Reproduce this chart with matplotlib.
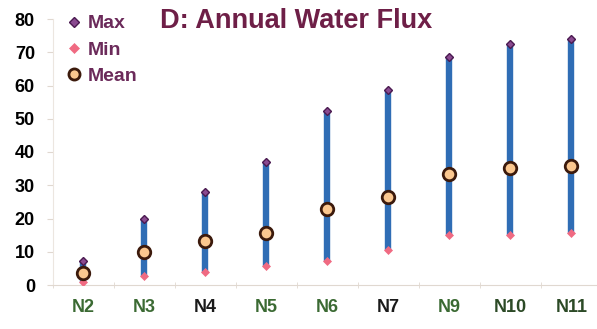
import matplotlib.pyplot as plt
import numpy as np

# 数据 (annual water flux per site)
sites = ['N2', 'N3', 'N4', 'N5', 'N6', 'N7', 'N9', 'N10', 'N11']
max_vals = [7.2, 19.8, 28.0, 37.0, 52.3, 58.6, 68.7, 72.6, 73.9]
min_vals = [1.0, 2.7, 4.0, 5.8, 7.3, 10.5, 15.0, 15.0, 15.6]
mean_vals = [3.5, 10.0, 13.2, 15.7, 22.8, 26.4, 33.4, 35.3, 35.9]
label_colors = ['#3b6a33', '#3b6a33', '#1a1a1a', '#3b6a33', '#3b6a33',
                '#1a1a1a', '#3b6a33', '#2c4a26', '#2c4a26']

plt.rcParams['font.family'] = ['Liberation Sans', 'DejaVu Sans']

fig = plt.figure(figsize=(5.97, 3.29), dpi=100)
ax = fig.add_axes([53/597, 44/329, 544/597, 266/329])

x = np.arange(len(sites))

# 最大值到最小值的竖条
ax.vlines(x, min_vals, max_vals, color='#2f6db5', lw=4.6, zorder=1)
ax.plot(x, max_vals, 'D', ms=4.5, mfc='#8a4a90', mec='#4a1a50', mew=1,
        ls='none', label='Max', zorder=3)
ax.plot(x, min_vals, 'D', ms=4.5, mfc='#f06a82', mec='#f06a82', mew=0.5,
        ls='none', label='Min', zorder=3)
ax.plot(x, mean_vals, 'o', ms=9, mfc='#fbc78f', mec='#3c1a0c', mew=2,
        ls='none', label='Mean', zorder=4)

ax.set_xlim(-0.5, 8.42)
ax.set_ylim(0, 80)
ax.set_yticks(range(0, 81, 10))
ax.tick_params(axis='y', labelsize=13, length=4, color='#e0d8d0', pad=9)
for lab in ax.get_yticklabels():
    lab.set_fontweight('bold')

ax.set_xticks(x)
ax.set_xticklabels(sites, fontsize=13, fontweight='bold')
for lab, c in zip(ax.get_xticklabels(), label_colors):
    lab.set_color(c)
ax.tick_params(axis='x', length=0, pad=10)
ax.set_xticks(np.arange(-0.5, 8.5, 1), minor=True)
ax.tick_params(axis='x', which='minor', length=4, color='#e0d8d0', direction='inout')

for s in ['top', 'right']:
    ax.spines[s].set_visible(False)
ax.spines['left'].set_color('#ece6e0')
ax.spines['bottom'].set_color('#e0d8d0')

leg = ax.legend(loc='upper left', bbox_to_anchor=(0.0, 1.06), frameon=False,
                prop={'weight': 'bold', 'size': 14}, handletextpad=0.2,
                labelspacing=0.45, handlelength=1.0, borderaxespad=0.2)
for t in leg.get_texts():
    t.set_color('#6b2a5a')
hs = leg.legend_handles
hs[0].set_markersize(5)
hs[1].set_markersize(5)
hs[2].set_markersize(8)

fig.text(160/597, 1 - 21/329, 'D: Annual Water Flux', fontsize=19.5,
         fontweight='bold', color='#6e1f47', va='center', ha='left')

fig.savefig('out.png', dpi=100)
